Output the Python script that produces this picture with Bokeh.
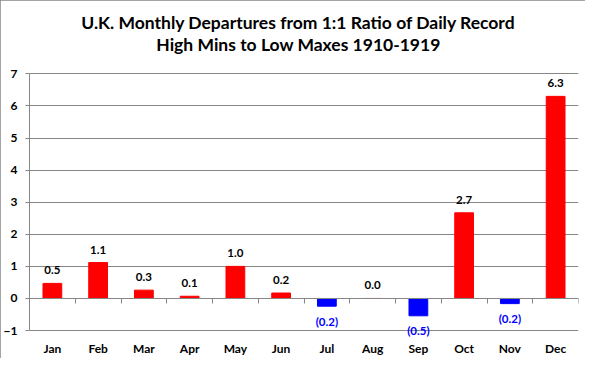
from bokeh.plotting import figure
from bokeh.models import (ColumnDataSource, Range1d, LinearAxis,
                          FixedTicker, Label, LabelSet)
from bokeh.core.properties import value
from bokeh.embed import file_html
from bokeh.resources import INLINE

months = ["Jan", "Feb", "Mar", "Apr", "May", "Jun",
          "Jul", "Aug", "Sep", "Oct", "Nov", "Dec"]
departures = [0.47, 1.12, 0.26, 0.07, 1.00, 0.17,
              -0.24, 0.00, -0.54, 2.67, -0.16, 6.30]
y_ticks = [-1, 0, 1, 2, 3, 4, 5, 6, 7]
title_lines = ["U.K. Monthly Departures from 1:1 Ratio of Daily Record",
               "High Mins to Low Maxes 1910-1919"]

POS = "#FF0000"
NEG = "#0000FF"
GRID = "#868686"
FONT = "Lato"

def fmt(v):
    return f"{v:.1f}" if v >= 0 else f"({abs(v):.1f})"

# category slot centres (one slot per month)
xc = [i + 0.5 for i in range(len(months))]
colors = [POS if v >= 0 else NEG for v in departures]
src = ColumnDataSource(dict(x=xc, month=months, val=departures, color=colors))

pos_src = ColumnDataSource(dict(
    x=[x for x, v in zip(xc, departures) if v >= 0],
    val=[v for v in departures if v >= 0],
    lab=[fmt(v) for v in departures if v >= 0]))
neg_src = ColumnDataSource(dict(
    x=[x for x, v in zip(xc, departures) if v < 0],
    val=[v for v in departures if v < 0],
    lab=[fmt(v) for v in departures if v < 0]))

# The frame spans the title area too, so the value range is padded above 7
# and a little below -1 (the axis itself is bounded to -1..7).
p = figure(width=585, height=358, output_backend="svg", toolbar_location=None,
           x_range=Range1d(0, len(months)),
           y_range=Range1d(-1.2162, 9.0386),
           min_border_left=24, min_border_right=7, min_border_top=8,
           min_border_bottom=18)
p.title = None
p.outline_line_color = None
p.background_fill_color = "white"
p.border_fill_color = "white"
p.styles = {"outline": "1px solid #868686", "outline-offset": "-1px"}

# category labels at bottom
xa = p.below[0]
xa.ticker = FixedTicker(ticks=xc)
xa.major_label_overrides = {x: m for x, m in zip(xc, months)}
xa.axis_line_color = None
xa.major_tick_line_color = None
xa.major_tick_out = 0
xa.major_tick_in = 0
xa.minor_tick_line_color = None
xa.major_label_standoff = 3
xa.major_label_text_font = FONT
xa.major_label_text_font_size = "12px"
xa.major_label_text_font_style = "bold"
xa.major_label_text_color = "black"

# zero line axis with ticks between categories, drawn at y = 0
za = LinearAxis(fixed_location=0,
                ticker=FixedTicker(ticks=list(range(len(months) + 1))))
za.axis_line_color = GRID
za.major_tick_line_color = GRID
za.major_tick_out = 0
za.major_tick_in = 5
za.minor_tick_line_color = None
za.major_label_standoff = 0
za.major_label_text_font_size = "0px"
za.major_label_text_alpha = 0
p.add_layout(za, "above")

# two-line centred title (screen units, measured from the frame's bottom-left)
for line, sy in zip(title_lines, [315, 293]):
    p.add_layout(Label(x=269, y=sy, x_units="screen", y_units="screen",
                       text=line, text_align="center", text_baseline="middle",
                       text_font=FONT, text_font_size="17.5px",
                       text_font_style="bold", text_color="black"))

# bars
p.vbar(x="x", top="val", bottom=0, width=0.41, color="color", source=src)

# data labels
p.add_layout(LabelSet(x="x", y="val", text="lab", source=pos_src,
                      text_align="center", text_baseline="middle", y_offset=13,
                      text_font=value(FONT), text_font_size=value("11.5px"),
                      text_font_style="bold", text_color="black"))
p.add_layout(LabelSet(x="x", y="val", text="lab", source=neg_src,
                      text_align="center", text_baseline="middle", y_offset=-15,
                      text_font=value(FONT), text_font_size=value("11.5px"),
                      text_font_style="bold", text_color=NEG))

# grid
p.xgrid.grid_line_color = None
p.ygrid.grid_line_color = GRID
p.ygrid.grid_line_width = 1
p.ygrid.ticker = FixedTicker(ticks=y_ticks)

# y axis
ya = p.left[0]
ya.ticker = FixedTicker(ticks=y_ticks)
ya.bounds = (y_ticks[0], y_ticks[-1])
ya.axis_line_color = GRID
ya.major_tick_line_color = GRID
ya.major_tick_out = 4
ya.major_tick_in = 0
ya.minor_tick_line_color = None
ya.major_label_standoff = 8
ya.major_label_text_font = FONT
ya.major_label_text_font_size = "12px"
ya.major_label_text_font_style = "bold"
ya.major_label_text_color = "black"

open("out.html", "w").write(file_html(p, INLINE))
